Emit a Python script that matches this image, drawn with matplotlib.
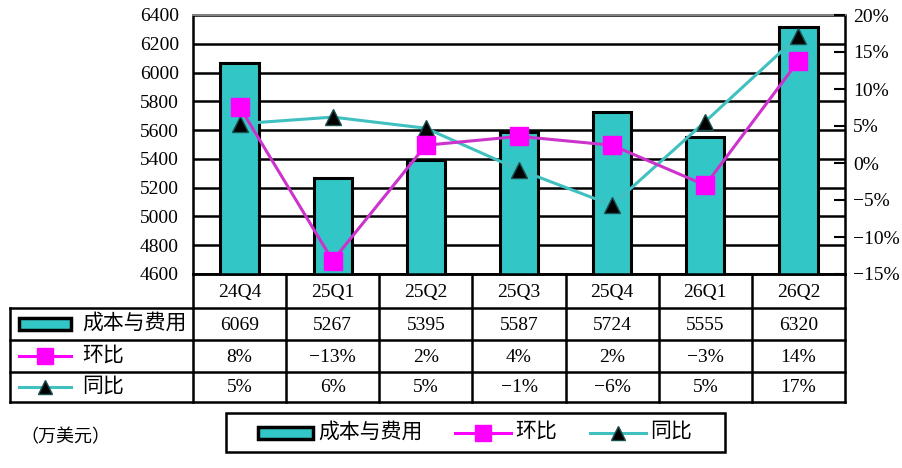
import numpy as np
import matplotlib
matplotlib.use('Agg')
import matplotlib.pyplot as plt
from matplotlib.patches import Rectangle

plt.rcParams['font.family'] = ['Liberation Serif', 'Noto Sans CJK SC', 'DejaVu Sans']
plt.rcParams['axes.unicode_minus'] = False

# data
quarters = ['24Q4', '25Q1', '25Q2', '25Q3', '25Q4', '26Q1', '26Q2']
cost = [6069, 5267, 5395, 5587, 5724, 5555, 6320]
qoq = [7.6, -13.2, 2.4, 3.6, 2.4, -3.0, 13.8]
yoy = [5.3, 6.2, 4.7, -0.9, -5.7, 5.6, 17.2]
qoq_labels = ['8%', '−13%', '2%', '4%', '2%', '−3%', '14%']
yoy_labels = ['5%', '6%', '5%', '−1%', '−6%', '5%', '17%']
series_names = ['成本与费用', '环比', '同比']
unit_text = '（万美元）'

BAR_C = '#33C6C6'
QOQ_C = '#FF00FF'
YOY_C = '#40C0C0'
LINE_QOQ = '#CC33CC'

W, H = 902, 468
fig = plt.figure(figsize=(W / 100, H / 100), dpi=100)

# main plot area in pixel coords
px_l, px_r, px_t, px_b = 193, 845, 15, 274
ax = fig.add_axes([px_l / W, 1 - px_b / H, (px_r - px_l) / W, (px_b - px_t) / H])
x = np.arange(len(quarters))
ax.bar(x, cost, width=0.41, color=BAR_C, edgecolor='black', linewidth=2.2, zorder=3)
ax.set_xlim(-0.5, len(quarters) - 0.5)
ax.set_ylim(4600, 6400)
ax.set_yticks(np.arange(4600, 6401, 200))
ax.yaxis.grid(True, color='black', linewidth=1.8, zorder=0)
ax.set_axisbelow(True)
ax.set_xticks([])
ax.tick_params(axis='y', length=0, labelsize=14, pad=10)
for s in ['left', 'right', 'bottom']:
    ax.spines[s].set_linewidth(1.8)
    ax.spines[s].set_color('black')
ax.spines['top'].set_color('#808080')
ax.spines['top'].set_linewidth(1.5)

ax2 = ax.twinx()
ax2.set_ylim(-15, 20)
ax2.set_yticks(np.arange(-15, 21, 5))
ax2.set_yticklabels(['%d%%' % v if v >= 0 else '−%d%%' % -v for v in range(-15, 21, 5)])
ax2.tick_params(axis='y', direction='in', length=8, width=1.5, labelsize=14, pad=6)
for s in ax2.spines.values():
    s.set_visible(False)
ax2.plot(x, qoq, color=LINE_QOQ, linewidth=2.2, marker='s', markersize=13,
         markerfacecolor=QOQ_C, markeredgecolor=QOQ_C, zorder=5)
ax2.plot(x, yoy, color=YOY_C, linewidth=2.2, marker='^', markersize=11,
         markerfacecolor='black', markeredgecolor='#1a5050', zorder=4)

# table drawn on a full-figure overlay in pixel coords
ov = fig.add_axes([0, 0, 1, 1])
ov.set_xlim(0, W)
ov.set_ylim(H, 0)
ov.axis('off')
ov.patch.set_alpha(0)

row_y = [274, 308, 340, 372, 402]
tab_l = 10
col_x = [ax.transData.transform((i - 0.5, 0))[0] for i in range(len(quarters) + 1)]
lw = 1.8
# horizontal lines
ov.plot([px_l, px_r], [row_y[0], row_y[0]], color='black', lw=lw)
for yy in row_y[1:]:
    ov.plot([tab_l, px_r], [yy, yy], color='black', lw=lw)
ov.plot([tab_l, tab_l], [row_y[1], row_y[-1]], color='black', lw=lw)
for cx in col_x:
    ov.plot([cx, cx], [row_y[0], row_y[-1]], color='black', lw=lw)

rows = [quarters, [str(v) for v in cost], qoq_labels, yoy_labels]
for r, vals in enumerate(rows):
    cy = (row_y[r] + row_y[r + 1]) / 2
    for i, v in enumerate(vals):
        cx = (col_x[i] + col_x[i + 1]) / 2
        ov.text(cx, cy + 1, v, ha='center', va='center', fontsize=14)


def draw_key(kind, xk, yk, width=52):
    if kind == 0:
        ov.add_patch(Rectangle((xk, yk - 6), width, 12, facecolor=BAR_C,
                               edgecolor='black', linewidth=2.5))
    elif kind == 1:
        ov.plot([xk, xk + width], [yk, yk], color=QOQ_C, lw=2.2)
        ov.plot([xk + width / 2], [yk], marker='s', markersize=12, color=QOQ_C)
    else:
        ov.plot([xk, xk + width], [yk, yk], color=YOY_C, lw=2.2)
        ov.plot([xk + width / 2], [yk], marker='^', markersize=10,
                markerfacecolor='black', markeredgecolor='#1a5050')


for r in range(3):
    cy = (row_y[r + 1] + row_y[r + 2]) / 2
    draw_key(r, 19, cy)
    ov.text(82, cy, series_names[r], ha='left', va='center', fontsize=15)

# legend box
ov.add_patch(Rectangle((226, 413), 499, 39, facecolor='none', edgecolor='black', linewidth=1.8))
leg_items = [(258, 0), (455, 1), (590, 2)]
for xk, k in leg_items:
    draw_key(k, xk, 432.5, width=55 if k == 0 else 56)
    ov.text(xk + 60, 432.5, series_names[k], ha='left', va='center', fontsize=15)

ov.text(20, 438, unit_text, ha='left', va='center', fontsize=13)

fig.savefig('out.png', dpi=100)
